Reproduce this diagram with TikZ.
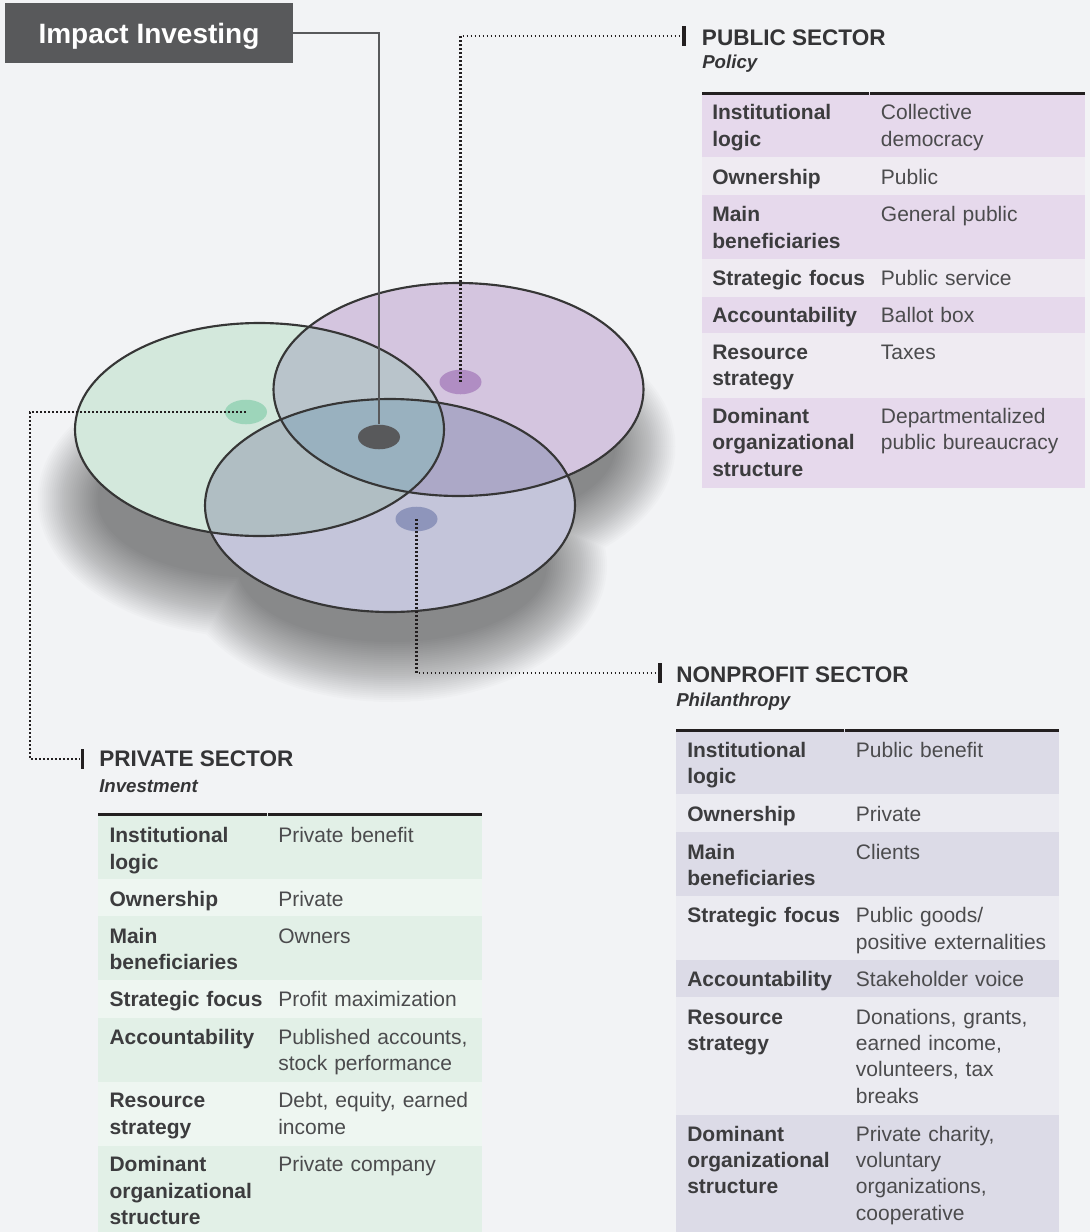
\documentclass[tikz,border=0pt]{standalone}
\usepackage{fontspec}
\setmainfont{Liberation Sans}
\usetikzlibrary{shapes.geometric}
\setlength\parindent{0pt}
\definecolor{bg}{HTML}{F2F3F5}
\definecolor{titlegray}{HTML}{58595B}
\definecolor{inkdark}{HTML}{231F20}
\definecolor{ellline}{HTML}{363636}
\definecolor{gfill}{HTML}{D3E8DC}
\definecolor{pfill}{HTML}{D4C5DF}
\definecolor{lfill}{HTML}{C4C5DA}
\definecolor{gpfill}{HTML}{B9C4CB}
\definecolor{glfill}{HTML}{B0BEC3}
\definecolor{plfill}{HTML}{ACA8C7}
\definecolor{gplfill}{HTML}{99B1BF}
\definecolor{gdotc}{HTML}{9DD5BA}
\definecolor{pdotc}{HTML}{B08DC3}
\definecolor{ldotc}{HTML}{8E95BB}
\definecolor{pubdark}{HTML}{E6D9EC}
\definecolor{publight}{HTML}{EFEBF2}
\definecolor{prvdark}{HTML}{E2F0E7}
\definecolor{prvlight}{HTML}{EEF6F1}
\definecolor{npdark}{HTML}{DCDBE7}
\definecolor{nplight}{HTML}{EBEBF1}
\definecolor{keyc}{HTML}{3C3C3E}
\definecolor{valc}{HTML}{4B4B4D}
\definecolor{hdrc}{HTML}{343436}
\newcommand\bodyfnt{\fontsize{15.75}{19.75}\selectfont}
\begin{document}
\begin{tikzpicture}[x=0.75pt,y=-0.75pt,
  titlebox/.style={rectangle, fill=titlegray, text=white, font=\fontsize{21}{25}\selectfont\bfseries,
    minimum width=216pt, minimum height=45pt, inner sep=0pt, text height=15pt, text depth=0pt},
  hdrtext/.style={anchor=base west, inner sep=0pt, text=hdrc, font=\fontsize{16.9}{20}\selectfont\bfseries},
  subtext/.style={anchor=base west, inner sep=0pt, text=hdrc, font=\fontsize{14}{17}\selectfont\bfseries\itshape},
  keytext/.style={anchor=north west, yshift=13.825pt, inner sep=0pt, text width=150pt, align=left,
    text=keyc, font=\bodyfnt\bfseries, execute at begin node=\strut},
  valtext/.style={anchor=north west, yshift=13.825pt, inner sep=0pt, text width=160pt, align=left,
    text=valc, font=\bodyfnt, execute at begin node=\strut},
  dotnode/.style={ellipse, inner sep=0pt, minimum width=31.5pt, minimum height=18.4pt, draw=none},
  barnode/.style={rectangle, fill=inkdark, inner sep=0pt, minimum width=2.4pt, minimum height=15pt},
  dotline/.style={draw=inkdark, line width=1.7pt, dash pattern=on 1.3pt off 1.7pt},
  impline/.style={draw=titlegray, line width=1.5pt},
  ellstroke/.style={draw=ellline, line width=1.6pt},
  rulestyle/.style={draw=inkdark, line width=2.25pt}
]
\useasboundingbox (0,0) rectangle (1090,1232);
\fill[bg] (0,0) rectangle (1090,1232);

% ---------- shadow ----------
\foreach \r in {-30,-28,...,30} {
  \fill[black, opacity=0.0145]
    (253.5,499.5) ellipse ({186+\r} and {108+\r})
    (460.5,446.5) ellipse ({185+\r} and {106.5+\r})
    (392,565.5) ellipse ({185+\r} and {106.5+\r});
}

% ---------- ellipses ----------
\fill[gfill] (259.5,429.5) ellipse (184.5 and 106.5);
\fill[pfill] (458.5,389.5) ellipse (185 and 106.5);
\fill[lfill] (390,505.5) ellipse (185 and 106.5);
\begin{scope}
  \clip (259.5,429.5) ellipse (184.5 and 106.5);
  \fill[gpfill] (458.5,389.5) ellipse (185 and 106.5);
  \fill[glfill] (390,505.5) ellipse (185 and 106.5);
\end{scope}
\begin{scope}
  \clip (458.5,389.5) ellipse (185 and 106.5);
  \fill[plfill] (390,505.5) ellipse (185 and 106.5);
\end{scope}
\begin{scope}
  \clip (259.5,429.5) ellipse (184.5 and 106.5);
  \clip (458.5,389.5) ellipse (185 and 106.5);
  \fill[gplfill] (390,505.5) ellipse (185 and 106.5);
\end{scope}
\draw[ellstroke] (259.5,429.5) ellipse (184.5 and 106.5);
\draw[ellstroke] (458.5,389.5) ellipse (185 and 106.5);
\draw[ellstroke] (390,505.5) ellipse (185 and 106.5);

% ---------- dots ----------
\node[dotnode, fill=titlegray] (cdot) at (379,437) {};
\node[dotnode, fill=gdotc] (gdot) at (246,412) {};
\node[dotnode, fill=pdotc] (pdot) at (460.5,382) {};
\node[dotnode, fill=ldotc] (ldot) at (416.5,519) {};

% ---------- title ----------
\node[titlebox] (title) at (149,33) {Impact Investing};
\draw[impline] (title.east) -| (cdot.north);

% ---------- bars and headers ----------
\node[barnode] (pubbar) at (684,36) {};
\node[barnode] (prvbar) at (82.3,759) {};
\node[barnode] (npbar) at (660,673) {};
\coordinate (gleft) at (30,412);

\draw[dotline] (pdot.center) |- (pubbar.west);
\draw[dotline] (gdot.center) -- (gleft) |- (prvbar.west);
\draw[dotline] (ldot.center) |- (npbar.west);

\node[hdrtext] (pubhdr) at (701.7,45) {PUBLIC SECTOR};
\node[subtext] (pubsub) at (702,68.3) {Policy};
\node[hdrtext] (prvhdr) at (99,766) {PRIVATE SECTOR};
\node[subtext] (prvsub) at (99,792) {Investment};
\node[hdrtext] (nphdr) at (676,682.3) {NONPROFIT SECTOR};
\node[subtext] (npsub) at (676,706.7) {Philanthropy};

% ---------- public table ----------
\fill[pubdark]  (702,93.3) rectangle (1085,157);
\fill[publight] (702,157) rectangle (1085,195);
\fill[pubdark]  (702,195) rectangle (1085,259);
\fill[publight] (702,259) rectangle (1085,297);
\fill[pubdark]  (702,297) rectangle (1085,333);
\fill[publight] (702,333) rectangle (1085,398);
\fill[pubdark]  (702,398) rectangle (1085,488);
\draw[rulestyle] (702,93.3) -- (868.5,93.3);
\draw[rulestyle] (869.5,93.3) -- (1085,93.3);
\node[keytext] (pk1) at (712,119.5) {Institutional\\logic};
\node[valtext] (pv1) at (880.7,119.5) {Collective\\democracy};
\node[keytext] (pk2) at (712,184.3) {Ownership};
\node[valtext] (pv2) at (880.7,184.3) {Public};
\node[keytext] (pk3) at (712,221.7) {Main\\beneficiaries};
\node[valtext] (pv3) at (880.7,221.7) {General public};
\node[keytext] (pk4) at (712,285.7) {Strategic focus};
\node[valtext] (pv4) at (880.7,285.7) {Public service};
\node[keytext] (pk5) at (712,322.7) {Accountability};
\node[valtext] (pv5) at (880.7,322.7) {Ballot box};
\node[keytext] (pk6) at (712,359.3) {Resource\\strategy};
\node[valtext] (pv6) at (880.7,359.3) {Taxes};
\node[keytext] (pk7) at (712,423.3) {Dominant\\organizational\\structure};
\node[valtext] (pv7) at (880.7,423.3) {Departmentalized\\public bureaucracy};

% ---------- private table ----------
\fill[prvdark]  (98,814) rectangle (482,879);
\fill[prvlight] (98,879) rectangle (482,916);
\fill[prvdark]  (98,916) rectangle (482,980);
\fill[prvlight] (98,980) rectangle (482,1018);
\fill[prvdark]  (98,1018) rectangle (482,1082);
\fill[prvlight] (98,1082) rectangle (482,1146);
\fill[prvdark]  (98,1146) rectangle (482,1232);
\draw[rulestyle] (98,814) -- (266.5,814);
\draw[rulestyle] (267.5,814) -- (482,814);
\node[keytext] (rk1) at (109.3,842.7) {Institutional\\logic};
\node[valtext] (rv1) at (278,842.7) {Private benefit};
\node[keytext] (rk2) at (109.3,906.7) {Ownership};
\node[valtext] (rv2) at (278,906.7) {Private};
\node[keytext] (rk3) at (109.3,943.3) {Main\\beneficiaries};
\node[valtext] (rv3) at (278,943.3) {Owners};
\node[keytext] (rk4) at (109.3,1006.7) {Strategic focus};
\node[valtext] (rv4) at (278,1006.7) {Profit maximization};
\node[keytext] (rk5) at (109.3,1044) {Accountability};
\node[valtext] (rv5) at (278,1044) {Published accounts,\\stock performance};
\node[keytext] (rk6) at (109.3,1107.7) {Resource\\strategy};
\node[valtext] (rv6) at (278,1107.7) {Debt, equity, earned\\income};
\node[keytext] (rk7) at (109.3,1171.7) {Dominant\\organizational\\structure};
\node[valtext] (rv7) at (278,1171.7) {Private company};

% ---------- nonprofit table ----------
\fill[npdark]  (676,730) rectangle (1059,794);
\fill[nplight] (676,794) rectangle (1059,832);
\fill[npdark]  (676,832) rectangle (1059,896);
\fill[nplight] (676,896) rectangle (1059,960);
\fill[npdark]  (676,960) rectangle (1059,997);
\fill[nplight] (676,997) rectangle (1059,1115);
\fill[npdark]  (676,1115) rectangle (1059,1232);
\draw[rulestyle] (676,730) -- (843.5,730);
\draw[rulestyle] (844.5,730) -- (1059,730);
\node[keytext] (nk1) at (687,757.3) {Institutional\\logic};
\node[valtext] (nv1) at (855.7,757.3) {Public benefit};
\node[keytext] (nk2) at (687,821.7) {Ownership};
\node[valtext] (nv2) at (855.7,821.7) {Private};
\node[keytext] (nk3) at (687,859) {Main\\beneficiaries};
\node[valtext] (nv3) at (855.7,859) {Clients};
\node[keytext] (nk4) at (687,922.7) {Strategic focus};
\node[valtext] (nv4) at (855.7,922.7) {Public goods/\\positive externalities};
\node[keytext] (nk5) at (687,986.7) {Accountability};
\node[valtext] (nv5) at (855.7,986.7) {Stakeholder voice};
\node[keytext] (nk6) at (687,1024) {Resource\\strategy};
\node[valtext] (nv6) at (855.7,1024) {Donations, grants,\\earned income,\\volunteers, tax\\breaks};
\node[keytext] (nk7) at (687,1141) {Dominant\\organizational\\structure};
\node[valtext] (nv7) at (855.7,1141) {Private charity,\\voluntary\\organizations,\\cooperative};
\end{tikzpicture}
\end{document}
